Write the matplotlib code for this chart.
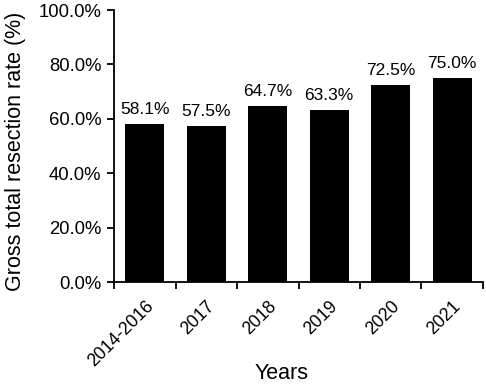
import numpy as np
import matplotlib.pyplot as plt
from matplotlib.ticker import FuncFormatter, FixedLocator

plt.rcParams['font.family'] = ['Liberation Sans', 'DejaVu Sans']

years = ['2014-2016', '2017', '2018', '2019', '2020', '2021']
rates = [58.1, 57.5, 64.7, 63.3, 72.5, 75.0]

fig = plt.figure(figsize=(4.86, 3.85), dpi=100)
ax = fig.add_axes([0.2346, 0.2675, 0.7592, 0.7065])

x = np.arange(len(years))
bars = ax.bar(x, rates, width=0.64, color='black')

for xi, r in zip(x, rates):
    ax.text(xi, r + 2.5, '%.1f%%' % r, ha='center', va='bottom', fontsize=12.5)

ax.set_xlim(-0.5, len(years) - 0.5)
ax.set_ylim(0, 100)
ax.set_yticks(np.arange(0, 101, 20))
ax.yaxis.set_major_formatter(FuncFormatter(lambda v, p: '%.1f%%' % v))

ax.set_xticks(x)
ax.set_xticklabels(years, rotation=45, ha='right', rotation_mode='anchor')
ax.xaxis.set_minor_locator(FixedLocator(np.arange(-0.5, len(years), 1)))
ax.tick_params(axis='x', which='major', length=0, pad=11, labelsize=12.8)
ax.tick_params(axis='x', which='minor', length=5, width=1.3, direction='out')
ax.tick_params(axis='y', length=5, width=1.3, direction='out', labelsize=13.3, pad=4)

for s in ['top', 'right']:
    ax.spines[s].set_visible(False)
for s in ['left', 'bottom']:
    ax.spines[s].set_linewidth(1.3)

ax.set_ylabel('Gross total resection rate (%)', fontsize=15.5)
ax.yaxis.label.set_va('center')
ax.yaxis.set_label_coords(-0.268, 0.482)
ax.set_xlabel('Years', fontsize=15.5)
ax.xaxis.label.set_va('center')
ax.xaxis.set_label_coords(0.455, -0.336)

fig.savefig('out.png', dpi=100)
